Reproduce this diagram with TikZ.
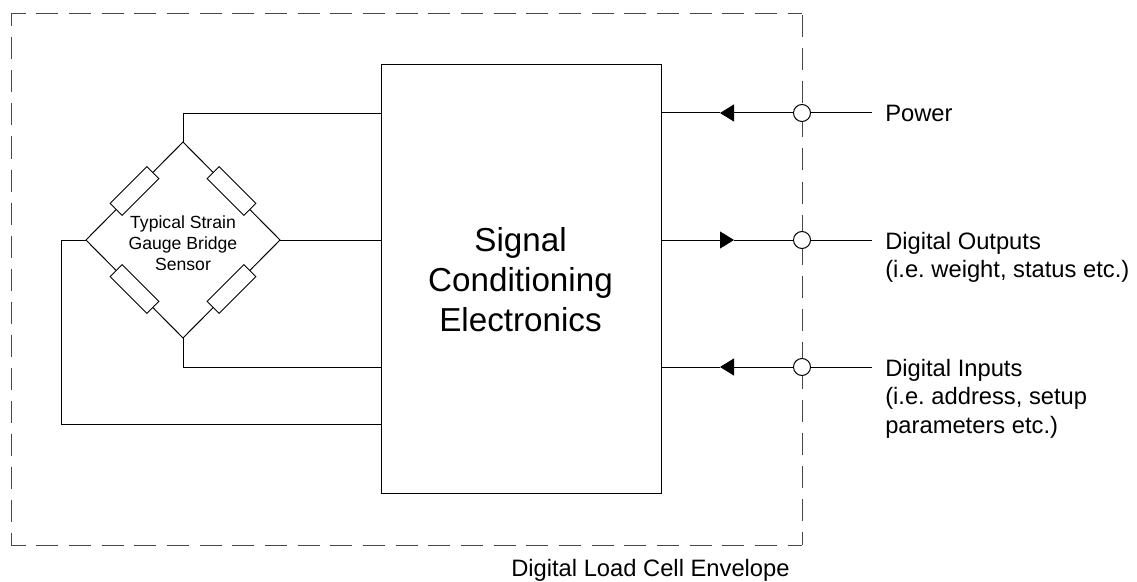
\documentclass[tikz,border=0pt]{standalone}
\usepackage{fontspec}
\setmainfont{Liberation Sans}
\frenchspacing
\usetikzlibrary{arrows.meta}
\begin{document}
\begin{tikzpicture}[
  x=.75pt, y=-.75pt,
  wire/.style={draw, line width=.75pt},
  envelope/.style={draw=black!72, line width=.75pt},
  across/.style={envelope, dash pattern=on 16.5pt off 8pt, dash phase=5.6pt},
  resistor/.style={draw, fill=white, line width=.75pt, minimum width=39pt, minimum height=12.75pt, inner sep=0pt},
  junction/.style={draw, fill=white, circle, line width=.75pt, minimum size=12.75pt, inner sep=0pt},
  signal/.style={line width=.75pt, -{Triangle[length=10.5pt, width=12.75pt]}},
  label/.style={font=\fontsize{17.8}{21.2}\selectfont, align=left, anchor=north west, inner sep=0pt}
]
\useasboundingbox (0,0) rectangle (1137,581);
\node[draw, line width=.75pt, minimum width=210.2pt, minimum height=322pt] (box) at (521.4,279.2) {};
\node[align=center, inner sep=0pt, font=\fontsize{24.9}{30}\selectfont] (boxtext) at (520.5,280) {Signal\\Conditioning\\Electronics};
% envelope
\node[junction, draw=none, fill=none] (jp) at (802,113) {};
\node[junction, draw=none, fill=none] (jo) at (802,240) {};
\node[junction, draw=none, fill=none] (ji) at (802,367) {};
\coordinate (c1) at (11,13.5);
\coordinate (c2) at (802,13.5);
\coordinate (c3) at (802,545);
\coordinate (c4) at (11,545);
\draw[across] (c1) -- (c2);
\draw[across] (c4) -- (c3);
\draw[envelope, dash pattern=on 16.5pt off 8.25pt, dash phase=6.75pt] (c1) -- (c4);
\draw[envelope, dash pattern=on 16.5pt off 8.55pt, dash phase=24.2pt] (c2) -- (jo.center);
\draw[envelope, dash pattern=on 16.5pt off 8.25pt, dash phase=22.5pt] (jo.center) -- (ji.center);
\draw[envelope, dash pattern=on 16.5pt off 8.25pt] (ji.center) -- (c3);
% bridge
\coordinate (top) at (183,142);
\coordinate (left) at (86,240);
\coordinate (right) at (280,240);
\coordinate (bottom) at (183,338);
\node[resistor, rotate=45] (r1) at (134.5,191) {};
\node[resistor, rotate=-45] (r2) at (231.5,191) {};
\node[resistor, rotate=-45] (r3) at (134.5,289) {};
\node[resistor, rotate=45] (r4) at (231.5,289) {};
\draw[wire] (left) -- (r1) -- (top) -- (r2) -- (right) -- (r4) -- (bottom) -- (r3) -- (left);
\node[align=center, inner sep=0pt, font=\fontsize{13.2}{15.75}\selectfont] (sensor) at (183,243) {Typical Strain\\Gauge Bridge\\Sensor};
\draw[wire] (top) |- (box.west |- 0,113.5);
\draw[wire] (right) -- (box.west |- right);
\draw[wire] (bottom) |- (box.west |- 0,367);
\draw[wire] (left) -- (61,240) |- (box.west |- 0,424);
% outside connections
\coordinate (ep) at (872,113);
\coordinate (eo) at (872,240);
\coordinate (ei) at (872,367);
\coordinate (tp) at (720,113);
\coordinate (to) at (734,240);
\coordinate (ti) at (720,367);
\draw[wire] (ep) -- (jp.center);
\draw[wire] (eo) -- (jo.center);
\draw[wire] (ei) -- (ji.center);
\draw[signal] (jp.center) -- (tp);
\draw[wire] (tp) -- (box.east |- tp);
\draw[wire] (jo.center) -- (to);
\draw[signal] (box.east |- to) -- (to);
\draw[signal] (ji.center) -- (ti);
\draw[wire] (ti) -- (box.east |- ti);
\node[junction] at (jp) {};
\node[junction] at (jo) {};
\node[junction] at (ji) {};
\node[label] (lp) at (885,105) {Power};
\node[label] (lo) at (885,232) {Digital Outputs\\(i.e. weight, status etc.)};
\node[label] (li) at (885,359) {Digital Inputs\\(i.e. address, setup\\parameters etc.)};
\node[label] (le) at (511,559.5) {Digital Load Cell Envelope};
\end{tikzpicture}
\end{document}
